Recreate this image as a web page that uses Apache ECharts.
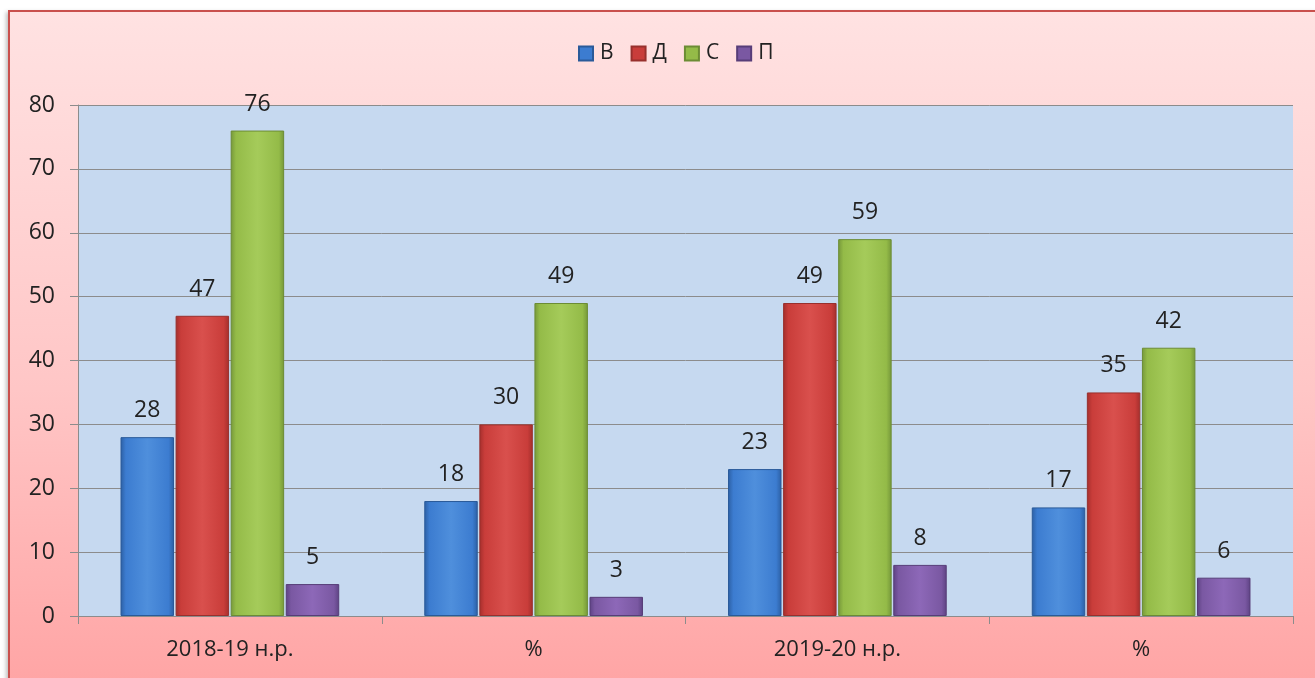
<!DOCTYPE html>
<html>
<head>
<meta charset="utf-8">
<script src="https://cdn.jsdelivr.net/npm/echarts@6/dist/echarts.min.js"></script>
<style>
  html, body { margin: 0; padding: 0; width: 1315px; height: 678px; overflow: hidden; background: #fff; }
  .frame {
    position: absolute; left: 8px; top: 10px; width: 1330px; height: 690px;
    border: 2px solid #c9504d; box-sizing: border-box;
    background: linear-gradient(to bottom, #ffe2e2 0%, #ffc6c6 55%, #ffa3a3 100%);
    box-shadow: -2px 2px 4px rgba(0,0,0,0.25);
  }
  #chart { position: absolute; left: 0; top: 0; width: 1315px; height: 678px; }
</style>
</head>
<body>
<div class="frame"></div>
<div id="chart"></div>
<script>
const categories = ['2018-19 н.р.', '%', '2019-20 н.р.', '%'];
const seriesNames = ['В', 'Д', 'С', 'П'];
const valuesB = [28, 18, 23, 17];
const valuesD = [47, 30, 49, 35];
const valuesS = [76, 49, 59, 42];
const valuesP = [5, 3, 8, 6];

const allValues = [valuesB, valuesD, valuesS, valuesP];
const palette = [
  { light: '#4f8fdc', mid: '#3c7cd0', dark: '#2c5fa3', border: '#2a5a99' },
  { light: '#d9504d', mid: '#c93d3a', dark: '#a32e2c', border: '#98302d' },
  { light: '#a5cb5a', mid: '#94bb48', dark: '#75973a', border: '#6c8c34' },
  { light: '#8d68b8', mid: '#7a58a2', dark: '#5d4283', border: '#573d78' }
];

const chart = echarts.init(document.getElementById('chart'));

const series = seriesNames.map((name, i) => ({
  name,
  type: 'bar',
  data: allValues[i],
  barGap: '3%',
  barCategoryGap: '28%',
  itemStyle: {
    color: new echarts.graphic.LinearGradient(0, 0, 1, 0, [
      { offset: 0, color: palette[i].dark },
      { offset: 0.1, color: palette[i].mid },
      { offset: 0.5, color: palette[i].light },
      { offset: 0.9, color: palette[i].mid },
      { offset: 1, color: palette[i].dark }
    ]),
    borderColor: palette[i].border,
    borderWidth: 1
  },
  label: {
    show: true,
    position: 'top',
    distance: 15,
    color: '#222',
    fontSize: 23,
    fontFamily: 'Open Sans'
  }
}));

chart.setOption({
  backgroundColor: 'transparent',
  animation: false,
  legend: {
    data: seriesNames.map((n, i) => ({ name: n, itemStyle: { color: palette[i].mid } })),
    top: 38,
    left: 573,
    icon: 'rect',
    itemWidth: 14,
    itemHeight: 14,
    itemGap: 17,
    textStyle: { color: '#222', fontSize: 21, fontFamily: 'Open Sans', padding: [0, 0, 0, 2] }
  },
  grid: { left: 78, right: 22, top: 105, bottom: 62, show: true, backgroundColor: '#c6d9f0', borderWidth: 0 },
  xAxis: {
    type: 'category',
    data: categories,
    axisLine: { lineStyle: { color: '#8c8c8c', width: 1 } },
    axisTick: { show: true, length: 8, lineStyle: { color: '#8c8c8c' } },
    axisLabel: { color: '#222', fontSize: 22, fontFamily: 'Open Sans', margin: 23 }
  },
  yAxis: {
    type: 'value',
    min: 0,
    max: 80,
    interval: 10,
    axisLine: { show: true, lineStyle: { color: '#8c8c8c', width: 1 } },
    axisTick: { show: true, length: 8, lineStyle: { color: '#8c8c8c' } },
    axisLabel: { color: '#222', fontSize: 23, fontFamily: 'Open Sans', margin: 23 },
    splitLine: { lineStyle: { color: '#8c8c8c', width: 1 } }
  },
  series
});
</script>
</body>
</html>
